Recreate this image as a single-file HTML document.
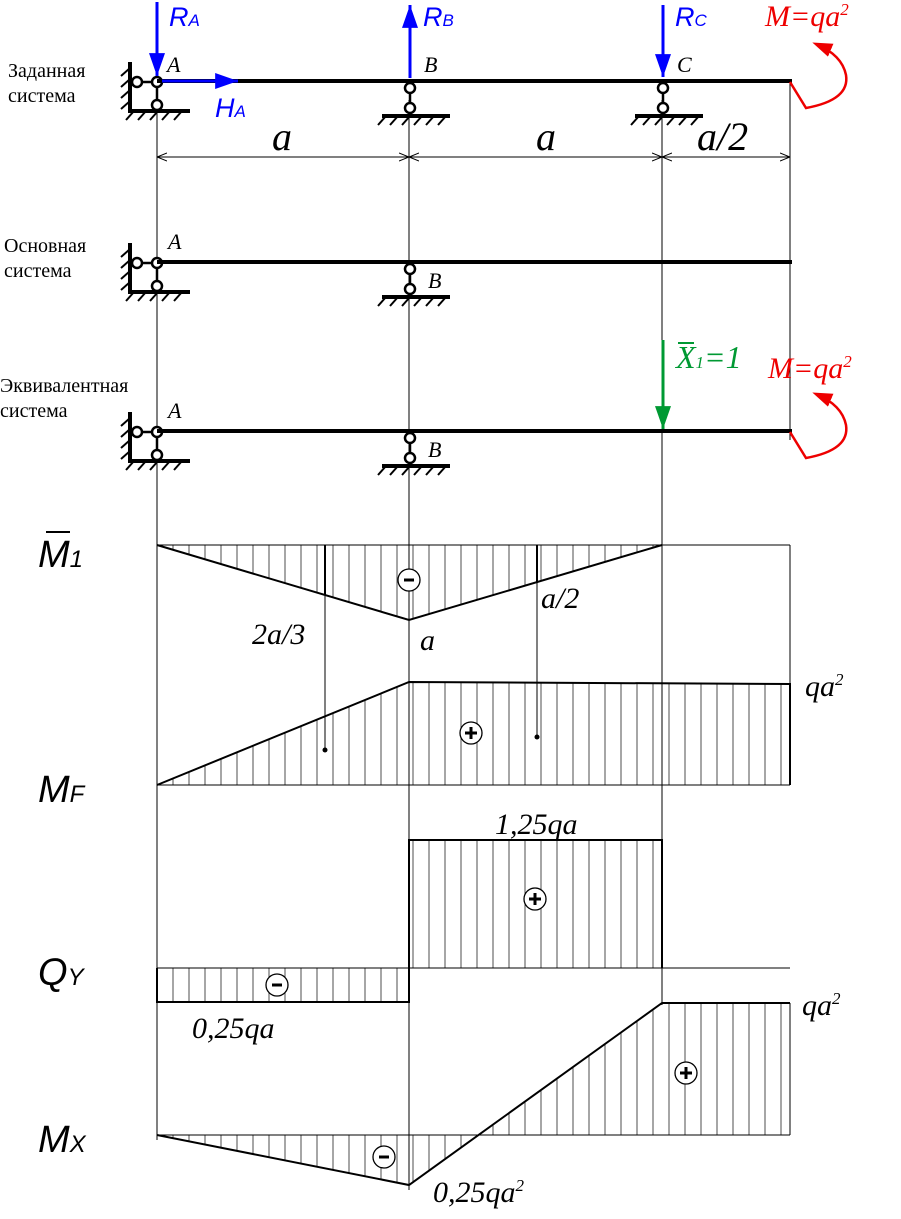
<!DOCTYPE html>
<html><head><meta charset="utf-8"><style>
body{margin:0;background:#fff}
svg text{font-family:"Liberation Serif",serif}
.s{font-family:"Liberation Sans",sans-serif;font-style:italic}
</style></head><body>
<svg id="g" width="901" height="1214" viewBox="0 0 901 1214" xmlns="http://www.w3.org/2000/svg">
<defs>
<marker id="ab" viewBox="0 0 20 14" refX="20" refY="7" markerWidth="24" markerHeight="16" markerUnits="userSpaceOnUse" orient="auto"><path d="M0,0L20,7L0,14z" fill="#00f"/></marker>
<marker id="ag" viewBox="0 0 20 14" refX="20" refY="7" markerWidth="24" markerHeight="16" markerUnits="userSpaceOnUse" orient="auto"><path d="M0,0L20,7L0,14z" fill="#093"/></marker>
<marker id="ar" viewBox="0 0 20 14" refX="16" refY="7" markerWidth="20" markerHeight="14" markerUnits="userSpaceOnUse" orient="auto"><path d="M0,0L20,7L0,14z" fill="#e00"/></marker>
<marker id="dk" viewBox="0 0 10 10" refX="10" refY="5" markerWidth="10" markerHeight="10" markerUnits="userSpaceOnUse" orient="auto"><path d="M0,1L10,5L0,9" fill="none" stroke="#000"/></marker>
</defs>
<g stroke="#000" stroke-width="1" fill="none">
<line x1="157" y1="100" x2="157" y2="1140"/>
<line x1="409" y1="100" x2="409" y2="1190"/>
<line x1="662" y1="100" x2="662" y2="1005"/>
<line x1="790" y1="80" x2="790" y2="440"/>
<line x1="157" y1="157" x2="409" y2="157" marker-end="url(#dk)"/>
<line x1="409" y1="157" x2="157" y2="157" marker-end="url(#dk)"/>
<line x1="409" y1="157" x2="662" y2="157" marker-end="url(#dk)"/>
<line x1="662" y1="157" x2="409" y2="157" marker-end="url(#dk)"/>
<line x1="662" y1="157" x2="790" y2="157" marker-end="url(#dk)"/>
<line x1="790" y1="157" x2="662" y2="157" marker-end="url(#dk)"/>
</g>
<g id="sup"></g>
<g stroke="#000" stroke-width="4">
<line x1="157" y1="81" x2="792" y2="81"/>
<line x1="157" y1="262" x2="792" y2="262"/>
<line x1="157" y1="431" x2="792" y2="431"/>
</g>
<g stroke="#00f" stroke-width="3" fill="none">
<line x1="157" y1="2" x2="157" y2="76" marker-end="url(#ab)"/>
<line x1="162" y1="81" x2="238" y2="81" marker-end="url(#ab)"/>
<line x1="410" y1="78" x2="410" y2="5" marker-end="url(#ab)"/>
<line x1="663" y1="5" x2="663" y2="77" marker-end="url(#ab)"/>
</g>
<g stroke="#093" stroke-width="3"><line x1="663" y1="340" x2="663" y2="429" marker-end="url(#ag)"/></g>
<g stroke="#e00" stroke-width="2.5" fill="none">
<path d="M790,82 L806,108 Q850,100 846,75 Q842,55 816,44" marker-end="url(#ar)"/>
<path d="M790,432 L806,458 Q850,450 846,425 Q842,405 816,394" marker-end="url(#ar)"/>
</g>
<g fill="#00f" font-size="27">
<text x="169" y="26" class="s">R<tspan font-size="17">A</tspan></text>
<text x="215" y="117" class="s">H<tspan font-size="17">A</tspan></text>
<text x="423" y="26" class="s">R<tspan font-size="17">B</tspan></text>
<text x="675" y="26" class="s">R<tspan font-size="17">C</tspan></text>
</g>
<g fill="#e00" font-size="30" font-style="italic">
<text x="765" y="26">M=qa<tspan font-size="17" dy="-11">2</tspan></text>
<text x="768" y="378">M=qa<tspan font-size="17" dy="-11">2</tspan></text>
</g>
<g fill="#093" font-size="32" font-style="italic">
<text x="676" y="368">X<tspan font-size="17">1</tspan>=1</text>
<line x1="678" y1="343" x2="694" y2="343" stroke="#093" stroke-width="2"/>
</g>
<g font-size="22" font-style="italic">
<text x="167" y="72">A</text><text x="424" y="72">B</text><text x="677" y="72">C</text>
<text x="168" y="249">A</text><text x="428" y="288">B</text>
<text x="168" y="418">A</text><text x="428" y="457">B</text>
</g>
<g font-size="40" font-style="italic">
<text x="272" y="150">a</text><text x="536" y="150">a</text><text x="697" y="150">a/2</text>
</g>
<g font-size="20">
<text x="8" y="77">Заданная</text><text x="8" y="102">система</text>
<text x="4" y="252">Основная</text><text x="4" y="277">система</text>
<text x="0" y="392">Эквивалентная</text><text x="0" y="417">система</text>
</g>
<g id="hat" stroke="#000" stroke-width="0.7"></g>
<g stroke="#000" stroke-width="1" fill="none">
<line x1="157" y1="545" x2="790" y2="545"/>
<line x1="157" y1="785" x2="790" y2="785"/>
<line x1="157" y1="968" x2="790" y2="968"/>
<line x1="157" y1="1135" x2="790" y2="1135"/>
<line x1="790" y1="545" x2="790" y2="785"/>
<line x1="790" y1="1003" x2="790" y2="1135"/>
<line x1="325" y1="595" x2="325" y2="750"/>
<line x1="537" y1="583" x2="537" y2="737"/>
</g>
<g stroke="#000" stroke-width="2" fill="none">
<polyline points="157,545 409,620 662,545"/>
<line x1="325" y1="545" x2="325" y2="595"/><line x1="537" y1="545" x2="537" y2="583"/>
<polyline points="157,785 409,682 790,684 790,785"/>
<polyline points="409,968 409,840 662,840 662,968"/>
<polyline points="157,968 157,1002 409,1002 409,968"/>
<polyline points="157,1135 409,1185 662,1003 790,1003"/>
</g>
<circle cx="325" cy="750" r="2.5"/><circle cx="537" cy="737" r="2.5"/>
<g stroke="#000" stroke-width="1.3" fill="#fff">
<circle cx="409" cy="580" r="11"/><circle cx="471" cy="733" r="11"/><circle cx="535" cy="899" r="11"/>
<circle cx="277" cy="985" r="11"/><circle cx="686" cy="1073" r="11"/><circle cx="384" cy="1157" r="11"/>
</g>
<g stroke="#000" stroke-width="3">
<line x1="404" y1="580" x2="414" y2="580"/><line x1="272" y1="985" x2="282" y2="985"/><line x1="379" y1="1157" x2="389" y2="1157"/>
<line x1="465" y1="733" x2="477" y2="733"/><line x1="471" y1="727" x2="471" y2="739"/>
<line x1="529" y1="899" x2="541" y2="899"/><line x1="535" y1="893" x2="535" y2="905"/>
<line x1="680" y1="1073" x2="692" y2="1073"/><line x1="686" y1="1067" x2="686" y2="1079"/>
</g>
<g font-size="30" font-style="italic">
<text x="252" y="644">2a/3</text><text x="420" y="650">a</text><text x="541" y="608">a/2</text>
<text x="805" y="696">qa<tspan font-size="17" dy="-11">2</tspan></text>
<text x="495" y="834">1,25qa</text>
<text x="192" y="1038">0,25qa</text>
<text x="802" y="1015">qa<tspan font-size="17" dy="-11">2</tspan></text>
<text x="433" y="1202">0,25qa<tspan font-size="17" dy="-11">2</tspan></text>
</g>
<g font-size="38">
<text x="38" y="567" class="s">M<tspan font-size="24">1</tspan></text>
<line x1="46" y1="532" x2="70" y2="532" stroke="#000" stroke-width="2"/>
<text x="38" y="802" class="s">M<tspan font-size="24">F</tspan></text>
<text x="38" y="985" class="s">Q<tspan font-size="24">Y</tspan></text>
<text x="38" y="1152" class="s">M<tspan font-size="24">X</tspan></text>
</g>
</svg>
<script>
var NS="http://www.w3.org/2000/svg";
function L(p,a){var e=document.createElementNS(NS,"line");for(var k in a)e.setAttribute(k,a[k]);p.appendChild(e);}
var h=document.getElementById("hat");
function lerp(x,x1,y1,x2,y2){return y1+(y2-y1)*(x-x1)/(x2-x1);}
for(var x=157+16;x<790;x+=16){
 if(x<662){var y=x<=409?lerp(x,157,545,409,620):lerp(x,409,620,662,545);L(h,{x1:x,y1:545,x2:x,y2:y});}
 var y2=x<=409?lerp(x,157,785,409,682):lerp(x,409,682,790,684);L(h,{x1:x,y1:785,x2:x,y2:y2});
 if(x<409)L(h,{x1:x,y1:968,x2:x,y2:1002});else if(x<662)L(h,{x1:x,y1:968,x2:x,y2:840});
 var y3=x<=409?lerp(x,157,1135,409,1185):(x<=662?lerp(x,409,1185,662,1003):1003);L(h,{x1:x,y1:1135,x2:x,y2:y3});
}
var s=document.getElementById("sup");
function C(cx,cy){var e=document.createElementNS(NS,"circle");e.setAttribute("cx",cx);e.setAttribute("cy",cy);e.setAttribute("r",5);e.setAttribute("fill","#fff");e.setAttribute("stroke","#000");e.setAttribute("stroke-width",2.5);s.appendChild(e);}
function hatch(x1,x2,y){for(var x=x1+4;x<=x2;x+=12)L(s,{x1:x,y1:y,x2:x-8,y2:y+9,stroke:"#000","stroke-width":2});}
function A(y){L(s,{x1:130,y1:y-20,x2:130,y2:y+29,stroke:"#000","stroke-width":4});L(s,{x1:128,y1:y+29,x2:190,y2:y+29,stroke:"#000","stroke-width":4});
 for(var yy=y-14;yy<y+29;yy+=11)L(s,{x1:130,y1:yy,x2:121,y2:yy+8,stroke:"#000","stroke-width":2});hatch(130,190,y+29);
 L(s,{x1:137,y1:y,x2:157,y2:y,stroke:"#000","stroke-width":2.5});L(s,{x1:157,y1:y,x2:157,y2:y+23,stroke:"#000","stroke-width":2.5});
 C(137,y);C(157,y);C(157,y+23);}
function R(x,y){L(s,{x1:x,y1:y+7,x2:x,y2:y+27,stroke:"#000","stroke-width":2.5});L(s,{x1:x-28,y1:y+35,x2:x+40,y2:y+35,stroke:"#000","stroke-width":4});hatch(x-28,x+40,y+35);C(x,y+7);C(x,y+27);}
A(82);A(263);A(432);R(410,81);R(663,81);R(410,262);R(410,431);
</script>
</body></html>
